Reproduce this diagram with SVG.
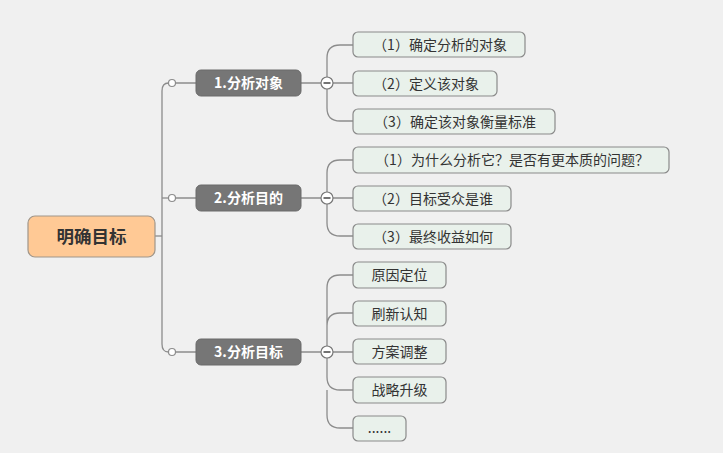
<svg xmlns="http://www.w3.org/2000/svg" width="723" height="453" viewBox="0 0 723 453">
<style>
text{font-family:"Noto Sans CJK SC","Liberation Sans",sans-serif;}
.root{fill:#ffc995;stroke:#a0968a;stroke-width:1.2;}
.rt{font-size:17.5px;font-weight:bold;fill:#333;text-anchor:middle;}
.mid{fill:#767676;stroke:#6a6a6a;stroke-width:1;}
.mt{font-size:14px;font-weight:bold;fill:#fff;text-anchor:middle;}
.leaf{fill:#e9f1eb;stroke:#8a8a8a;stroke-width:1.2;}
.lt{font-size:14px;fill:#333;text-anchor:middle;}
.ln{fill:none;stroke:#8c8c8c;stroke-width:1.3;}
.dot{fill:#fff;stroke:#8c8c8c;stroke-width:1.2;}
.col{fill:#fff;stroke:#777;stroke-width:1.2;}
.minus{stroke:#444;stroke-width:1.5;}
</style>
<rect width="723" height="453" fill="#f0f0f0"/>
<g id="connectors">
<path class="ln" d="M155 236 H162"/>
<path class="ln" d="M168.5 83 Q162 83 162 91 V344 Q162 352 168.5 352"/>
<path class="ln" d="M162 198 H168.5"/>
<path class="ln" d="M175.5 83 H196 M175.5 198 H196 M175.5 352 H196"/>
<path class="ln" d="M301 83 H321 M301 198 H321 M301 352 H321"/>
<path class="ln" d="M327 77 V58 Q327 45 340 45 H353 M333 83 H353 M327 89 V108 Q327 121 340 121 H353"/>
<path class="ln" d="M327 192 V173 Q327 160 340 160 H353 M333 198 H353 M327 204 V223 Q327 236 340 236 H353"/>
<path class="ln" d="M327 346 V288 Q327 275 340 275 H353 M327 326 Q327 313 340 313 H353 M333 352 H353 M327 358 V377 Q327 390 340 390 H353 M327 390 V415 Q327 428 340 428 H353"/>
<circle class="dot" cx="172" cy="83" r="3.5"/>
<circle class="dot" cx="172" cy="198" r="3.5"/>
<circle class="dot" cx="172" cy="352" r="3.5"/>
<circle class="col" cx="327" cy="83" r="6"/><path class="minus" d="M323.5 83 H330.5"/>
<circle class="col" cx="327" cy="198" r="6"/><path class="minus" d="M323.5 198 H330.5"/>
<circle class="col" cx="327" cy="352" r="6"/><path class="minus" d="M323.5 352 H330.5"/>
</g>
<g id="root"><rect class="root" x="28" y="216" width="127" height="41" rx="7"/><text class="rt" x="91.5" y="242.5">明确目标</text></g>
<g id="n1"><rect class="mid" x="196" y="70" width="105" height="26" rx="5"/><text class="mt" x="248.5" y="88">1.分析对象</text></g>
<g id="n2"><rect class="mid" x="196" y="185" width="105" height="26" rx="5"/><text class="mt" x="248.5" y="203">2.分析目的</text></g>
<g id="n3"><rect class="mid" x="196" y="339" width="105" height="26" rx="5"/><text class="mt" x="248.5" y="357">3.分析目标</text></g>
<g id="n1a"><rect class="leaf" x="353" y="32" width="172" height="25" rx="5"/><text class="lt" x="440" y="49.5">（1）确定分析的对象</text></g>
<g id="n1b"><rect class="leaf" x="353" y="71" width="144" height="25" rx="5"/><text class="lt" x="426" y="88.5">（2）定义该对象</text></g>
<g id="n1c"><rect class="leaf" x="353" y="109" width="202" height="25" rx="5"/><text class="lt" x="455" y="126.5">（3）确定该对象衡量标准</text></g>
<g id="n2a"><rect class="leaf" x="353" y="147" width="316" height="26" rx="5"/><text class="lt" x="512" y="165">（1）为什么分析它？是否有更本质的问题？</text></g>
<g id="n2b"><rect class="leaf" x="353" y="186" width="158" height="25" rx="5"/><text class="lt" x="433" y="203.5">（2）目标受众是谁</text></g>
<g id="n2c"><rect class="leaf" x="353" y="224" width="158" height="25" rx="5"/><text class="lt" x="433" y="241.5">（3）最终收益如何</text></g>
<g id="n3a"><rect class="leaf" x="353" y="262" width="93" height="26" rx="5"/><text class="lt" x="399.5" y="280">原因定位</text></g>
<g id="n3b"><rect class="leaf" x="353" y="301" width="93" height="25" rx="5"/><text class="lt" x="399.5" y="318.5">刷新认知</text></g>
<g id="n3c"><rect class="leaf" x="353" y="339" width="93" height="25" rx="5"/><text class="lt" x="399.5" y="356.5">方案调整</text></g>
<g id="n3d"><rect class="leaf" x="353" y="377" width="93" height="26" rx="5"/><text class="lt" x="399.5" y="395">战略升级</text></g>
<g id="n3e"><rect class="leaf" x="353" y="416" width="53" height="25" rx="5"/><text class="lt" x="379.5" y="433">......</text></g>
</svg>
